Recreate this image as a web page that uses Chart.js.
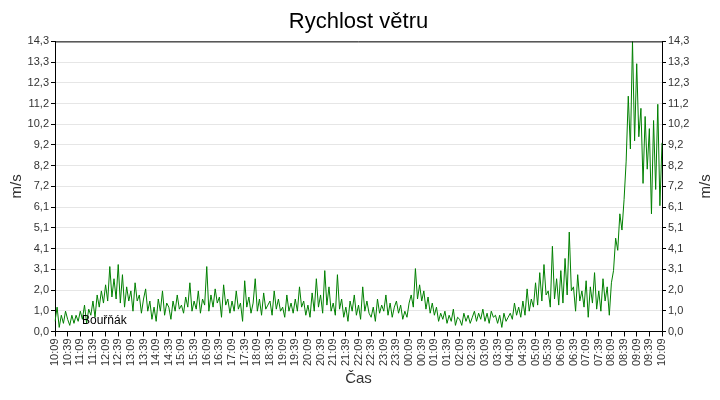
<!DOCTYPE html>
<html><head><meta charset="utf-8">
<script src="https://cdn.jsdelivr.net/npm/chart.js@4"></script>
<style>html,body{margin:0;padding:0;background:#fff}#w{width:720px;height:400px}</style>
</head><body><div id="w"><canvas id="c"></canvas></div>
<script>
const seriesName = "Bouřňák";
const startTime = [10, 9];
const windSpeed = [
0.5,1.2,0.2,0.8,0.4,1.0, 0.6,0.3,0.8,0.4,0.8,0.5, 1.0,0.6,1.3,0.4,1.1,0.8, 1.5,0.7,1.8,1.2,2.0,1.4,
2.3,1.5,3.2,1.7,2.6,1.6, 3.3,1.4,2.8,1.2,2.2,1.5, 2.0,1.0,2.4,1.5,1.8,0.9, 1.6,2.1,1.0,1.5,0.6,1.2,
0.5,1.6,1.0,2.0,0.8,1.4, 1.2,0.6,1.5,1.0,1.8,1.1, 1.3,0.9,1.7,1.2,2.4,1.0, 1.5,1.1,2.0,0.9,1.6,1.3,
3.2,1.0,1.8,1.2,2.1,1.4, 1.7,0.7,2.3,1.3,1.6,0.9, 1.5,1.0,2.0,1.1,1.4,0.5, 2.5,1.2,1.7,0.9,1.4,2.6,
1.0,1.6,0.8,1.9,1.1,1.3, 1.5,0.8,2.0,1.1,1.6,1.0, 1.2,0.7,1.8,1.0,1.4,0.9, 1.6,1.0,2.2,1.2,1.5,0.8,
1.3,0.7,1.9,1.0,2.6,1.2, 1.8,0.9,3.0,1.3,2.2,1.0, 1.4,0.8,2.8,1.1,1.6,0.7, 1.2,0.5,1.5,1.0,1.8,0.8,
1.3,0.6,2.2,1.0,1.5,0.9, 0.7,1.2,0.5,1.6,0.9,1.3, 1.0,1.8,0.8,1.4,0.7,1.2, 1.5,0.9,1.3,0.6,1.0,0.7,
1.4,1.8,1.2,3.1,1.6,2.3, 1.5,2.0,1.1,1.7,0.9,1.4, 0.8,1.2,0.5,0.9,0.6,1.0, 0.4,0.8,0.5,1.1,0.3,0.7,
0.6,0.3,0.9,0.5,0.8,0.4, 0.7,1.0,0.5,0.9,0.6,1.1, 0.5,0.9,0.4,1.0,0.7,0.8, 0.4,0.8,0.2,0.9,0.5,0.7,
0.9,0.6,1.4,0.8,1.2,0.7, 1.5,0.8,2.1,1.0,1.6,1.2, 2.4,1.3,2.9,1.5,3.3,1.8, 2.0,1.2,4.2,1.6,2.6,1.3,
3.0,1.4,3.6,1.8,4.9,2.0, 2.2,1.0,2.8,1.5,2.0,1.2, 2.5,0.7,2.2,1.4,2.9,1.1, 2.0,1.0,2.6,1.5,2.2,0.8,
2.4,3.0,4.6,4.0,5.8,5.0, 6.5,8.4,11.6,9.0,14.3,9.4, 13.2,9.6,11.0,7.3,10.6,8.0, 10.0,5.8,10.4,7.0,11.2,6.2,
9.3];
const yTickLabels = ["0,0","1,0","2,0","3,1","4,1","5,1","6,1","7,2","8,2","9,2","10,2","11,2","12,3","13,3","14,3"];
const yMax = 14.3;

const labels = windSpeed.map((v,i)=>{const m=startTime[0]*60+startTime[1]+i*5;const h=Math.floor(m/60)%24,mm=m%60;return String(h).padStart(2,'0')+':'+String(mm).padStart(2,'0');});
const yStep = yMax/(yTickLabels.length-1);
const font = {family:"Liberation Sans, Arial, sans-serif", size:11};
const yAxis = (pos)=>({position:pos,min:0,max:yMax,
  afterBuildTicks:(ax)=>{ax.ticks=yTickLabels.map((t,i)=>({value:i*yStep}));},
  afterFit:(ax)=>{ax.width=55;},
  ticks:{callback:(v,i)=>yTickLabels[i],color:'#333',font,padding:2},
  grid:{color: pos==='left'?'#e6e6e6':'transparent', tickLength:4, tickColor:'#000'},
  border:{color:'#000',display:true},
  title:{display:false}});
const extras = {id:'ex',afterDraw(ch){const a=ch.chartArea,c=ch.ctx;c.save();
  c.strokeStyle='#000';c.lineWidth=1;c.beginPath();c.moveTo(a.left,a.top+0.5);c.lineTo(a.right,a.top+0.5);c.stroke();
  c.font='12px Liberation Sans, Arial';c.fillStyle='#000';c.textBaseline='bottom';c.fillText(seriesName,a.left+27,a.bottom-5);
  c.font='15px Liberation Sans, Arial';c.fillStyle='#333';c.textAlign='center';c.textBaseline='middle';
  [17,706].forEach(x=>{c.save();c.translate(x,(a.top+a.bottom)/2);c.rotate(-Math.PI/2);c.fillText('m/s',0,0);c.restore();});
  c.restore();}};
new Chart(document.getElementById('c'),{type:'line',
  data:{labels,datasets:[{label:seriesName,data:windSpeed,borderColor:'#008000',borderWidth:1,pointRadius:0,tension:0,fill:false}]},
  options:{responsive:true,maintainAspectRatio:false,animation:false,
    layout:{padding:{left:0,right:3,top:0,bottom:8}},
    plugins:{legend:{display:false},tooltip:{enabled:false},
      title:{display:true,text:'Rychlost větru',color:'#000',font:{family:font.family,size:22,weight:'normal'},padding:{top:9,bottom:6}}},
    scales:{
      x:{ticks:{autoSkip:false,maxRotation:90,minRotation:90,color:'#333',font,padding:2,
          callback:(v,i)=> i%6===0?labels[i]:null},
        grid:{drawOnChartArea:false,tickLength:5,tickColor:'#000'},
        border:{color:'#000'},
        title:{display:true,text:'Čas',color:'#333',font:{family:font.family,size:15},padding:{top:2}}},
      y:yAxis('left'), y2:yAxis('right')}},
  plugins:[extras]});
</script></body></html>
